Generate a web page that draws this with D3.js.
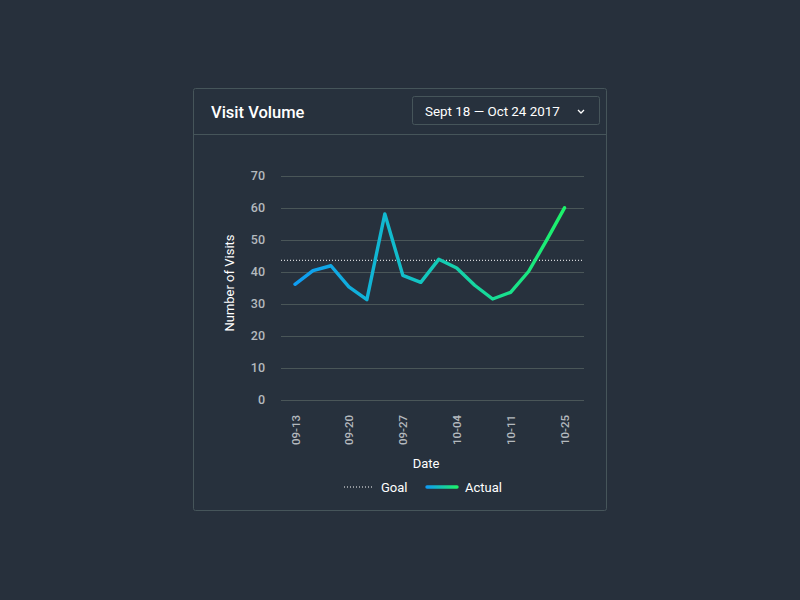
<!DOCTYPE html>
<html><head><meta charset="utf-8">
<script src="https://cdn.jsdelivr.net/npm/d3@7/dist/d3.min.js"></script>
<style>
html,body{margin:0;padding:0;background:#27303c;}
svg{display:block;font-family:Roboto,"Noto Sans",sans-serif;}
</style></head><body>
<svg id="c" width="800" height="600"></svg>
<script>
const categories = ["p0","p1","p2","p3","p4","p5","p6","p7","p8","p9","p10","p11","p12","p13","p14","p15"];
const actualValues = [36.0,40.3,41.8,35.2,31.2,58.0,38.8,36.6,43.8,41.1,35.7,31.4,33.5,40.0,49.7,59.9];
const goalValue = 43.5;
const tickCategories = ["p0","p3","p6","p9","p12","p15"];
const tickLabels = ["09-13","09-20","09-27","10-04","10-11","10-25"];
const yTicks = [0,10,20,30,40,50,60,70];

const svg = d3.select("#c");
svg.append("rect").attr("width",800).attr("height",600).attr("fill","#27303c");

// card
svg.append("rect").attr("x",193.5).attr("y",88.5).attr("width",413).attr("height",422)
  .attr("rx",2).attr("fill","#27313d").attr("stroke","#46555a").attr("stroke-width",1);
svg.append("line").attr("x1",194).attr("x2",606).attr("y1",134.5).attr("y2",134.5)
  .attr("stroke","#46555a");
svg.append("text").attr("x",211).attr("y",118).attr("fill","#ffffff")
  .attr("font-size",16.5).attr("font-weight",500).text("Visit Volume");
svg.append("rect").attr("x",412.5).attr("y",96.5).attr("width",187).attr("height",28)
  .attr("rx",2).attr("fill","#27313d").attr("stroke","#46555a");
svg.append("text").attr("x",425).attr("y",115.5).attr("fill","#ffffff")
  .attr("font-size",13.4).text("Sept 18 \u2014 Oct 24 2017");
svg.append("path").attr("d","M578,110 L581,113 L584,110").attr("fill","none")
  .attr("stroke","#ffffff").attr("stroke-width",1.3);

const x = d3.scalePoint().domain(categories).range([295,564.5]);
const y = d3.scaleLinear().domain([0,70]).range([399.5,175.5]);
const gx0 = 281, gx1 = 584;

const g = svg.append("g");
// grid
g.selectAll("line.grid").data(yTicks).join("line").attr("class","grid")
  .attr("x1",gx0).attr("x2",gx1).attr("y1",d=>Math.round(y(d))+0.5).attr("y2",d=>Math.round(y(d))+0.5)
  .attr("stroke","#4a5658").attr("stroke-width",1);
// y tick labels
g.selectAll("text.yt").data(yTicks).join("text").attr("class","yt")
  .attr("x",265).attr("y",d=>y(d)+4.5).attr("text-anchor","end")
  .attr("fill","#b4b9be").attr("font-size",12.5).attr("font-weight",500).text(d=>d);
// x tick labels
g.selectAll("text.xt").data(tickCategories).join("text").attr("class","xt")
  .attr("transform",(d)=>`translate(${x(d)+4.5},415) rotate(-90)`)
  .attr("text-anchor","end").attr("fill","#b4b9be").attr("font-size",11.5).attr("font-weight",500)
  .text((d,i)=>tickLabels[i]);
// axis titles
svg.append("text").attr("transform","translate(234,283) rotate(-90)").attr("text-anchor","middle")
  .attr("fill","#ffffff").attr("font-size",13).text("Number of Visits");
svg.append("text").attr("x",426).attr("y",468).attr("text-anchor","middle")
  .attr("fill","#ffffff").attr("font-size",13).text("Date");

// gradient
const defs = svg.append("defs");
const grad = defs.append("linearGradient").attr("id","lg").attr("gradientUnits","userSpaceOnUse")
  .attr("x1",295).attr("x2",564).attr("y1",0).attr("y2",0);
grad.append("stop").attr("offset","0%").attr("stop-color","#0f9cf2");
grad.append("stop").attr("offset","45%").attr("stop-color","#12c3c4");
grad.append("stop").attr("offset","100%").attr("stop-color","#1cf26a");
const lgl = defs.append("linearGradient").attr("id","lgl").attr("gradientUnits","userSpaceOnUse")
  .attr("x1",427).attr("x2",457).attr("y1",0).attr("y2",0);
lgl.append("stop").attr("offset","0%").attr("stop-color","#0f9cf2");
lgl.append("stop").attr("offset","100%").attr("stop-color","#1cf26a");

// goal
g.append("line").attr("x1",gx0).attr("x2",gx1).attr("y1",y(goalValue)).attr("y2",y(goalValue))
  .attr("stroke","#ffffff").attr("stroke-width",1).attr("stroke-dasharray","1,2");
// actual
const line = d3.line().x((d,i)=>x(categories[i])).y(d=>y(d)).curve(d3.curveLinear);
g.append("path").datum(actualValues).attr("d",line).attr("fill","none")
  .attr("stroke","url(#lg)").attr("stroke-width",3.4).attr("stroke-linejoin","round").attr("stroke-linecap","round");

// legend
svg.append("line").attr("x1",344).attr("x2",373).attr("y1",487).attr("y2",487)
  .attr("stroke","#ffffff").attr("stroke-width",1).attr("stroke-dasharray","1,2");
svg.append("text").attr("x",381).attr("y",491.5).attr("fill","#ffffff").attr("font-size",13).text("Goal");
svg.append("line").attr("x1",427).attr("x2",457).attr("y1",487).attr("y2",487)
  .attr("stroke","url(#lgl)").attr("stroke-width",3.4).attr("stroke-linecap","round");
svg.append("text").attr("x",465).attr("y",491.5).attr("fill","#ffffff").attr("font-size",13).text("Actual");
</script>
</body></html>
